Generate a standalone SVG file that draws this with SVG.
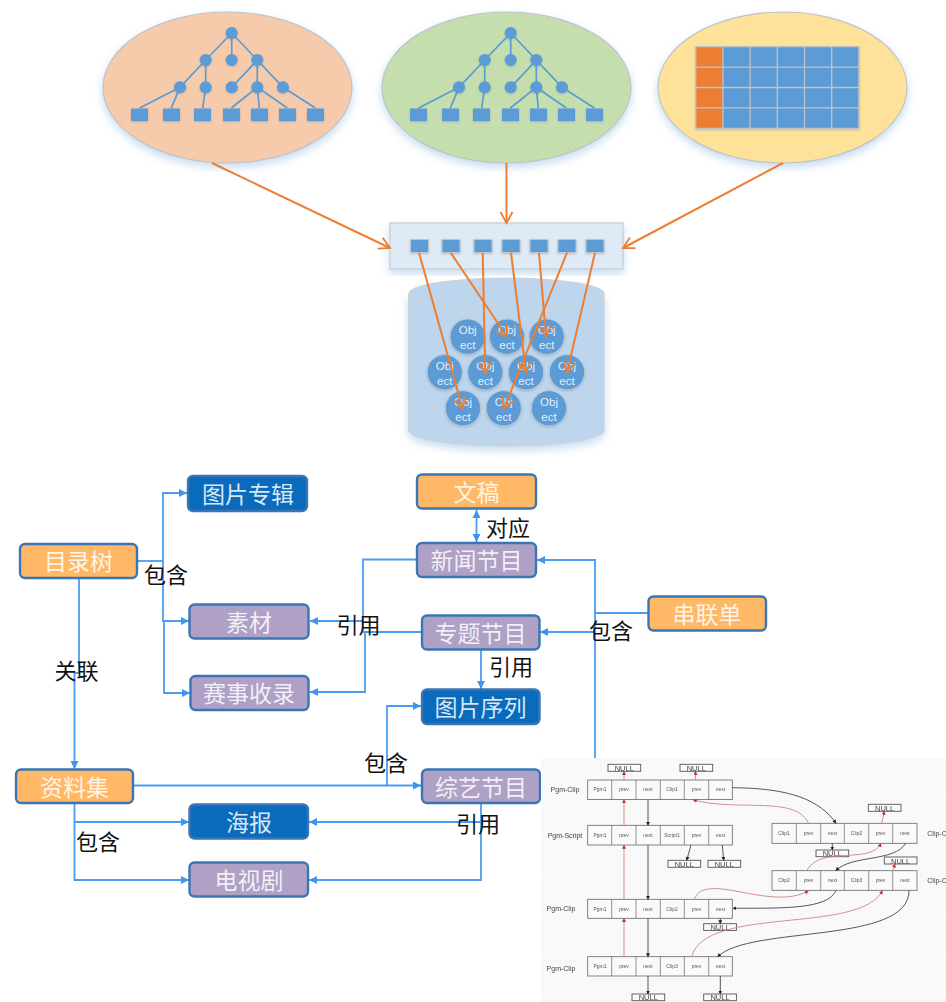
<svg xmlns="http://www.w3.org/2000/svg" width="946" height="1002" viewBox="0 0 946 1002">
<style>
text{font-family:"Noto Sans CJK SC","Liberation Sans",sans-serif;text-anchor:middle}
.e{stroke:#c0c4c8;stroke-width:1.2;filter:url(#sh)}
.b{fill:#5b9bd5;filter:url(#soft)}
.tl{stroke:#5b9bd5;stroke-width:1.7;fill:none}
.sq{fill:#5b9bd5;stroke:#bfc6cc;stroke-width:1}
.ob{fill:#5b9bd5;stroke:#c2c8cc;stroke-width:1;filter:url(#soft)}
.ot{fill:#fff;fill-opacity:.85;font-family:"Liberation Sans",sans-serif;font-size:11.5px}
.oa{stroke:#ed7d31;stroke-width:2;fill:none;marker-end:url(#oarrow)}
.n{stroke:#3a76b4;stroke-width:2.4}
.or{fill:#ffb966}.pu{fill:#afa0c6}.bl{fill:#0a6bbd}
.nt{fill:#fff;fill-opacity:.85;font-size:23px}
.lb{fill:#111;font-size:22px}
.c{stroke:#4a9cf0;stroke-width:1.8;fill:none}
.a{marker-end:url(#arrow)}
.s{marker-start:url(#astart)}
.cell{fill:#fafafa;stroke:#666;stroke-width:.8}
.d{stroke:#666;stroke-width:.7}
.ct{fill:#555;font-family:"Liberation Sans",sans-serif;font-size:5px}
.nl{fill:#fafafa;stroke:#555;stroke-width:.9}
.nu{fill:#444;font-family:"Liberation Sans",sans-serif;font-size:7.5px}
.pl{fill:#444;font-family:"Liberation Sans",sans-serif;font-size:7px}
.rd{stroke:#d08585;stroke-width:.9;fill:none;marker-end:url(#ra)}
.bk{stroke:#444;stroke-width:.9;fill:none;marker-end:url(#ka)}
</style>
<defs>
<filter id="sh" x="-10%" y="-10%" width="120%" height="125%"><feDropShadow dx="0" dy="4" stdDeviation="4" flood-color="#7fb0e0" flood-opacity=".45"/></filter>
<filter id="soft" x="-30%" y="-30%" width="160%" height="170%"><feDropShadow dx="0" dy="1" stdDeviation="1.2" flood-color="#5b7da0" flood-opacity=".4"/></filter>
<filter id="blur" x="-2%" y="-2%" width="104%" height="104%"><feGaussianBlur stdDeviation=".7"/></filter>
<pattern id="grid" width="10" height="10" patternUnits="userSpaceOnUse"><path d="M10 0H0V10" fill="none" stroke="#ececec" stroke-width=".6"/></pattern>
<marker id="oarrow" markerWidth="14" markerHeight="14" refX="12" refY="7" orient="auto" markerUnits="userSpaceOnUse"><path d="M1 1 12 7 1 13" fill="none" stroke="#ed7d31" stroke-width="1.8"/></marker>
<marker id="arrow" markerWidth="9" markerHeight="9" refX="8" refY="4" orient="auto" markerUnits="userSpaceOnUse"><path d="M0 0 8 4 0 8z" fill="#3f95ee"/></marker>
<marker id="astart" markerWidth="9" markerHeight="9" refX="0" refY="4" orient="auto" markerUnits="userSpaceOnUse"><path d="M8 0 0 4 8 8z" fill="#3f95ee"/></marker>
<marker id="ra" markerWidth="5" markerHeight="5" refX="3.5" refY="2" orient="auto" markerUnits="userSpaceOnUse"><path d="M0 0 4 2 0 4z" fill="#c03030"/></marker>
<marker id="ka" markerWidth="5" markerHeight="5" refX="3.5" refY="2" orient="auto" markerUnits="userSpaceOnUse"><path d="M0 0 4 2 0 4z" fill="#222"/></marker>
<g id="tree">
<path class="tl" d="M231.700 33 205.700 60 180 87.300M231.700 33V60M231.700 33 257.300 60 231.700 87.300M205.700 60V87.300M257.300 60V87.300M257.300 60 283 87.300M180 87.300 139.700 108M180 87.300 171.300 108M205.700 87.300 202.700 108M257.300 87.300 231.300 108M257.300 87.300 259.300 108M257.300 87.300 287.300 108M283 87.300 315.300 108"/>
<g class="b"><circle cx="231.700" cy="33" r="6"/><circle cx="205.700" cy="60" r="6"/><circle cx="231.700" cy="60" r="6"/><circle cx="257.300" cy="60" r="6"/><circle cx="180" cy="87.300" r="6"/><circle cx="205.700" cy="87.300" r="6"/><circle cx="231.700" cy="87.300" r="6"/><circle cx="257.300" cy="87.300" r="6"/><circle cx="283" cy="87.300" r="6"/>
<rect x="131" y="108.500" width="17" height="12.500"/><rect x="163" y="108.500" width="17" height="12.500"/><rect x="194" y="108.500" width="17" height="12.500"/><rect x="223" y="108.500" width="17" height="12.500"/><rect x="251" y="108.500" width="17" height="12.500"/><rect x="279" y="108.500" width="17" height="12.500"/><rect x="307" y="108.500" width="17" height="12.500"/></g>
</g>
</defs>
<rect width="946" height="1002" fill="#fff"/>

<g id="store-a"><ellipse class="e" cx="227.500" cy="87.500" rx="124.500" ry="75.500" fill="#f6cbab"/><use href="#tree"/></g>
<g id="store-b"><ellipse class="e" cx="506.500" cy="87.500" rx="124.500" ry="75.500" fill="#c5deae"/><use href="#tree" x="279"/></g>
<g id="store-c"><ellipse class="e" cx="782.500" cy="87.500" rx="124.500" ry="75.500" fill="#fee299"/>
<g filter="url(#soft)">
<rect x="695.700" y="46.700" width="27.200" height="81.600" fill="#ed7d31"/>
<rect x="722.900" y="46.700" width="136" height="81.600" fill="#5b9bd5"/>
<path d="M695.700 46.700H858.900V128.300H695.700zM722.900 46.700V128.300M750.100 46.700V128.300M777.300 46.700V128.300M804.500 46.700V128.300M831.700 46.700V128.300M695.700 67.100H858.900M695.700 87.500H858.900M695.700 107.900H858.900" fill="none" stroke="#c0c4c8" stroke-width="1.300"/>
</g></g>

<g id="cylinder">
<path d="M408.700 294V430C408.700 439 452 446 506.500 446S604 439 604 430V294" fill="#bdd6ee" stroke="#cfd2d4" stroke-width="1.200" filter="url(#sh)"/>
<ellipse cx="506.500" cy="294" rx="97.700" ry="16" fill="#bdd6ee" stroke="#cfd2d4" stroke-width="1.200"/>
</g>
<g id="objects">
<g><circle class="ob" cx="467.700" cy="336.700" r="17.700"/><text class="ot" x="467.700" y="334">Obj</text><text class="ot" x="467.700" y="349">ect</text></g>
<g><circle class="ob" cx="507" cy="336.700" r="17.700"/><text class="ot" x="507" y="334">Obj</text><text class="ot" x="507" y="349">ect</text></g>
<g><circle class="ob" cx="546.700" cy="336.700" r="17.700"/><text class="ot" x="546.700" y="334">Obj</text><text class="ot" x="546.700" y="349">ect</text></g>
<g><circle class="ob" cx="444.700" cy="372.300" r="17.700"/><text class="ot" x="444.700" y="370">Obj</text><text class="ot" x="444.700" y="385">ect</text></g>
<g><circle class="ob" cx="485.300" cy="372.300" r="17.700"/><text class="ot" x="485.300" y="370">Obj</text><text class="ot" x="485.300" y="385">ect</text></g>
<g><circle class="ob" cx="526" cy="372.300" r="17.700"/><text class="ot" x="526" y="370">Obj</text><text class="ot" x="526" y="385">ect</text></g>
<g><circle class="ob" cx="567" cy="372.300" r="17.700"/><text class="ot" x="567" y="370">Obj</text><text class="ot" x="567" y="385">ect</text></g>
<g><circle class="ob" cx="463" cy="408.300" r="17.700"/><text class="ot" x="463" y="406">Obj</text><text class="ot" x="463" y="421">ect</text></g>
<g><circle class="ob" cx="503.700" cy="408.300" r="17.700"/><text class="ot" x="503.700" y="406">Obj</text><text class="ot" x="503.700" y="421">ect</text></g>
<g><circle class="ob" cx="549" cy="408.300" r="17.700"/><text class="ot" x="549" y="406">Obj</text><text class="ot" x="549" y="421">ect</text></g>
</g>
<g id="index">
<rect x="390" y="223" width="233" height="46" fill="#deeaf6" stroke="#c8ccd0" stroke-width="1.200" filter="url(#sh)"/>
<g class="sq" filter="url(#soft)"><rect x="410.500" y="239.500" width="18" height="13"/><rect x="442" y="239.500" width="18" height="13"/><rect x="474" y="239.500" width="18" height="13"/><rect x="502" y="239.500" width="18" height="13"/><rect x="530" y="239.500" width="18" height="13"/><rect x="558" y="239.500" width="18" height="13"/><rect x="586" y="239.500" width="18" height="13"/></g>
</g>

<g id="object-connectors">
<path class="oa" d="M212 163 390 248"/><path class="oa" d="M506.500 163V223"/><path class="oa" d="M783 163 623 248"/>
<path class="oa" d="M419 252.700 462.700 409"/><path class="oa" d="M450.700 252.700 507 336.700"/><path class="oa" d="M482.700 252.700 485.300 373.300"/><path class="oa" d="M511 252.700 526 372.700"/><path class="oa" d="M539 252.700 546 336.700"/><path class="oa" d="M567 252.700 503.700 409"/><path class="oa" d="M595 252.700 567 372.700"/>
</g>

<g id="connectors">
<path class="c" d="M137 561H163"/>
<path class="c a" d="M163 561V493H187"/>
<path class="c a" d="M163 561V621H189"/>
<path class="c a" d="M164 621V693H190"/>
<path class="c a" d="M79 578V673H74.500V769"/>
<path class="c a s" d="M476.500 510V542"/>
<path class="c" d="M417 559.500H363V621"/>
<path class="c a" d="M365 632V692H310"/>
<path class="c a" d="M421 632H363V621H310"/>
<path class="c" d="M648 613H595"/>
<path class="c a" d="M595 613V560H537"/>
<path class="c a" d="M595 632H540"/>
<path class="c" d="M595 613V770"/>
<path class="c a" d="M481 650V689"/>
<path class="c a" d="M133 785.500H421"/>
<path class="c a" d="M387 785.500V706H421"/>
<path class="c a" d="M74.500 803V822H189"/>
<path class="c a" d="M74.500 822V880H189"/>
<path class="c a" d="M481 803V822H309"/>
<path class="c a" d="M481 822V880H309"/>
</g>

<g id="n-mulu"><rect class="n or" x="20" y="544" width="117" height="34" rx="5"/><text class="nt" x="78.500" y="570">目录树</text></g>
<g id="n-tupian"><rect class="n bl" x="188" y="476" width="119" height="35" rx="5"/><text class="nt" x="248" y="503">图片专辑</text></g>
<g id="n-sucai"><rect class="n pu" x="189.500" y="604.500" width="119" height="34" rx="5"/><text class="nt" x="249" y="631">素材</text></g>
<g id="n-saishi"><rect class="n pu" x="190.500" y="676" width="118" height="34" rx="5"/><text class="nt" x="249" y="702">赛事收录</text></g>
<g id="n-wengao"><rect class="n or" x="417" y="474.500" width="119" height="34" rx="5"/><text class="nt" x="476.500" y="501">文稿</text></g>
<g id="n-xinwen"><rect class="n pu" x="417" y="543" width="119" height="34" rx="5"/><text class="nt" x="476.500" y="569">新闻节目</text></g>
<g id="n-zhuanti"><rect class="n pu" x="422" y="615.500" width="117.500" height="34" rx="5"/><text class="nt" x="480.500" y="642">专题节目</text></g>
<g id="n-xulie"><rect class="n bl" x="422" y="689.500" width="117.500" height="34.500" rx="5"/><text class="nt" x="480.500" y="716">图片序列</text></g>
<g id="n-chuanlian"><rect class="n or" x="648.500" y="596.500" width="117.500" height="34" rx="5"/><text class="nt" x="707" y="623">串联单</text></g>
<g id="n-zongyi"><rect class="n pu" x="422" y="769.500" width="118" height="33.500" rx="5"/><text class="nt" x="481" y="796">综艺节目</text></g>
<g id="n-ziliao"><rect class="n or" x="16" y="769.500" width="117" height="33.500" rx="5"/><text class="nt" x="74.500" y="796">资料集</text></g>
<g id="n-haibao"><rect class="n bl" x="189.500" y="804.500" width="118.500" height="34" rx="5"/><text class="nt" x="249" y="831">海报</text></g>
<g id="n-dianshi"><rect class="n pu" x="189.500" y="862.500" width="118.500" height="34" rx="5"/><text class="nt" x="249" y="889">电视剧</text></g>

<g id="labels">
<text class="lb" x="166" y="583">包含</text>
<text class="lb" x="76.500" y="679">关联</text>
<text class="lb" x="358.500" y="633">引用</text>
<text class="lb" x="508" y="536">对应</text>
<text class="lb" x="611" y="639">包含</text>
<text class="lb" x="511" y="675">引用</text>
<text class="lb" x="386" y="771">包含</text>
<text class="lb" x="478" y="832">引用</text>
<text class="lb" x="98" y="850">包含</text>
</g>

<g id="linked-list">
<rect x="541" y="758" width="405" height="244" fill="#f9f9f9"/>
<rect x="541" y="758" width="405" height="244" fill="url(#grid)"/>
<g filter="url(#blur)">
<g id="row-1"><rect class="cell" x="587.700" y="780" width="144.600" height="19.500"/><path class="d" d="M611.700 780V799.500M636 780V799.500M660.300 780V799.500M684.300 780V799.500M708.700 780V799.500"/>
<text class="ct" x="600" y="791">Pgm1</text><text class="ct" x="624" y="791">prev</text><text class="ct" x="648" y="791">next</text><text class="ct" x="672" y="791">Clip1</text><text class="ct" x="696.500" y="791">prev</text><text class="ct" x="720.500" y="791">next</text></g>
<g id="row-2"><rect class="cell" x="587.700" y="825.300" width="144.600" height="19.700"/><path class="d" d="M611.700 825.300V845M636 825.300V845M660.300 825.300V845M684.300 825.300V845M708.700 825.300V845"/>
<text class="ct" x="600" y="836.500">Pgm1</text><text class="ct" x="624" y="836.500">prev</text><text class="ct" x="648" y="836.500">next</text><text class="ct" x="672" y="836.500">Script1</text><text class="ct" x="696.500" y="836.500">prev</text><text class="ct" x="720.500" y="836.500">next</text></g>
<g id="row-3"><rect class="cell" x="587.700" y="899.300" width="144.600" height="19"/><path class="d" d="M611.700 899.300V918.300M636 899.300V918.300M660.300 899.300V918.300M684.300 899.300V918.300M708.700 899.300V918.300"/>
<text class="ct" x="600" y="910.500">Pgm1</text><text class="ct" x="624" y="910.500">prev</text><text class="ct" x="648" y="910.500">next</text><text class="ct" x="672" y="910.500">Clip2</text><text class="ct" x="696.500" y="910.500">prev</text><text class="ct" x="720.500" y="910.500">next</text></g>
<g id="row-4"><rect class="cell" x="587.700" y="956.700" width="144.600" height="19.300"/><path class="d" d="M611.700 956.700V976M636 956.700V976M660.300 956.700V976M684.300 956.700V976M708.700 956.700V976"/>
<text class="ct" x="600" y="968">Pgm1</text><text class="ct" x="624" y="968">prev</text><text class="ct" x="648" y="968">next</text><text class="ct" x="672" y="968">Clip3</text><text class="ct" x="696.500" y="968">prev</text><text class="ct" x="720.500" y="968">next</text></g>
<g id="row-a"><rect class="cell" x="772" y="823.300" width="145" height="20"/><path class="d" d="M796.300 823.300V843.300M820.700 823.300V843.300M844.300 823.300V843.300M868.700 823.300V843.300M892.700 823.300V843.300"/>
<text class="ct" x="784" y="835">Clip1</text><text class="ct" x="808.500" y="835">prev</text><text class="ct" x="832.500" y="835">next</text><text class="ct" x="856.500" y="835">Clip2</text><text class="ct" x="880.500" y="835">prev</text><text class="ct" x="905" y="835">next</text></g>
<g id="row-b"><rect class="cell" x="772" y="870.700" width="145" height="19.600"/><path class="d" d="M796.300 870.700V890.300M820.700 870.700V890.300M844.300 870.700V890.300M868.700 870.700V890.300M892.700 870.700V890.300"/>
<text class="ct" x="784" y="882">Clip2</text><text class="ct" x="808.500" y="882">prev</text><text class="ct" x="832.500" y="882">next</text><text class="ct" x="856.500" y="882">Clip3</text><text class="ct" x="880.500" y="882">prev</text><text class="ct" x="905" y="882">next</text></g>

<g id="nulls">
<g><rect class="nl" x="608" y="764.300" width="32.700" height="7"/><text class="nu" x="624.300" y="770.800">NULL</text></g>
<g><rect class="nl" x="680" y="764.300" width="32.700" height="7"/><text class="nu" x="696.300" y="770.800">NULL</text></g>
<g><rect class="nl" x="868.300" y="804.300" width="32.700" height="7"/><text class="nu" x="884.600" y="810.800">NULL</text></g>
<g><rect class="nl" x="816" y="850" width="32.700" height="6.700"/><text class="nu" x="832.300" y="856.300">NULL</text></g>
<g><rect class="nl" x="884.300" y="857" width="32.700" height="7"/><text class="nu" x="900.600" y="863.500">NULL</text></g>
<g><rect class="nl" x="668" y="860.300" width="32.700" height="7"/><text class="nu" x="684.300" y="866.800">NULL</text></g>
<g><rect class="nl" x="708" y="860.300" width="32.700" height="7"/><text class="nu" x="724.300" y="866.800">NULL</text></g>
<g><rect class="nl" x="703.700" y="923.700" width="32.700" height="6.700"/><text class="nu" x="720" y="930">NULL</text></g>
<g><rect class="nl" x="632" y="994" width="32.700" height="6.700"/><text class="nu" x="648.300" y="1000.300">NULL</text></g>
<g><rect class="nl" x="703.700" y="994" width="32.700" height="6.700"/><text class="nu" x="720" y="1000.300">NULL</text></g>
</g>

<g id="row-labels">
<text class="pl" x="565" y="792">Pgm-Clip</text>
<text class="pl" x="565" y="838">Pgm-Script</text>
<text class="pl" x="561" y="911">Pgm-Clip</text>
<text class="pl" x="561" y="971">Pgm-Clip</text>
<text class="pl" x="937" y="836">Clip-C</text>
<text class="pl" x="937" y="883">Clip-C</text>
</g>

<g id="list-connectors">
<path class="rd" d="M624 780V771.500"/><path class="rd" d="M695.500 780V771.500"/>
<path class="rd" d="M624 825.300V799.700"/><path class="rd" d="M624 899.300V845.200"/><path class="rd" d="M624 956.700V918.500"/>
<path class="bk" d="M648 799.500V825.300"/><path class="bk" d="M648 845V899.300"/><path class="bk" d="M648 918.300V956.700"/>
<path class="bk" d="M648 976V994"/><path class="bk" d="M720.300 976V994"/><path class="bk" d="M720.300 918.300V923.700"/>
<path class="bk" d="M691 845 686.700 860.300"/><path class="bk" d="M722.300 845 723.700 860.300"/>
<path class="bk" d="M732.300 787.700C790 788 820 800 836 823.300"/>
<path class="rd" d="M808.700 823.300C795 795 740 812 693.300 800"/>
<path class="rd" d="M881.700 823.300 884.300 811.300"/>
<path class="bk" d="M832.300 843.300V850"/>
<path class="rd" d="M806.700 870.700C820 845 870 865 881 843.500"/>
<path class="bk" d="M905.700 843.300C895 862 850 855 836 870.700"/>
<path class="rd" d="M892.700 870.700 895 864"/>
<path class="rd" d="M694.300 899.300C705 870 770 912 808.300 891"/>
<path class="bk" d="M836 890.300C828 910 780 908 733 908.300"/>
<path class="rd" d="M691.700 956.700C705 905 860 935 882.300 890.700"/>
<path class="bk" d="M909 890.300C910 945 750 925 717.700 956.700"/>
</g>
</g>
</g>
</svg>
